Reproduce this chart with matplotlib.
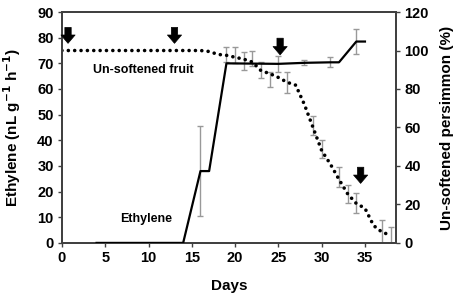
import matplotlib
matplotlib.use("Agg")
import matplotlib.pyplot as plt

plt.rcParams['font.family'] = ['Liberation Sans', 'DejaVu Sans']
plt.rcParams['font.weight'] = 'bold'
plt.rcParams['mathtext.default'] = 'bf'

# ethylene production (left axis)
eth_days = [4, 14, 16, 17, 19, 25, 28, 31, 32, 34, 35]
eth_vals = [0, 0, 28, 28, 70, 69.8, 70.2, 70.4, 70.4, 78.5, 78.5]
eth_err_days = [16, 25, 28, 31, 34]
eth_err_vals = [28, 69.8, 70.2, 70.4, 78.5]
eth_err = [17.5, 3, 1, 2, 4.7]

# un-softened fruit percentage (right axis)
soft_days = list(range(0, 39))
soft_vals = [100] * 17 + [99.5, 98, 97.5, 96.5, 95.5, 94, 89.5, 88, 86, 83.5,
                          82, 72, 60, 48, 41, 33, 25.5, 20.5, 18, 9, 5.5, 4]
soft_err_days = [19, 20, 21, 22, 23, 24, 26, 29, 30, 32, 33, 34, 37, 38]
soft_err_vals = [98, 97.7, 94.7, 95.7, 89.8, 85, 83.3, 61, 48.8, 34.3, 25.5, 20.8, 5.5, 4.2]
soft_err = [4, 4.3, 4.7, 3.9, 4.3, 3.9, 5.6, 5, 4.7, 5.2, 4.7, 5.2, 6.5, 4.2]

# sampling arrows: day, top, tip (left-axis units)
arrow_days = [0.7, 13, 25.2, 34.5]
arrow_top = [84, 84, 79.8, 29.5]
arrow_tip = [77.8, 77.8, 73.3, 23.2]

spine_col = '#404040'
err_col = '#999999'

fig = plt.figure(figsize=(4.59, 3.01), dpi=100)
ax = fig.add_axes([0.135, 0.193, 0.728, 0.767])
ax2 = ax.twinx()

ax2.errorbar(soft_err_days, soft_err_vals, yerr=soft_err, fmt='none',
             ecolor=err_col, elinewidth=1, capsize=2, capthick=1, zorder=1)
ax2.plot(soft_days, soft_vals, color='black', lw=2.6,
         linestyle=(0, (0.01, 1.75)), dash_capstyle='round', zorder=2)

ax.errorbar(eth_err_days, eth_err_vals, yerr=eth_err, fmt='none',
            ecolor=err_col, elinewidth=1, capsize=2, capthick=1, zorder=1)
ax.plot(eth_days, eth_vals, color='black', lw=1.6, zorder=3)

for d, t, b in zip(arrow_days, arrow_top, arrow_tip):
    ax.annotate('', xy=(d, b), xytext=(d, t),
                arrowprops=dict(arrowstyle='simple,head_length=0.5,head_width=0.85,tail_width=0.38',
                                fc='black', ec='black', lw=0.5, mutation_scale=12,
                                shrinkA=0, shrinkB=0), zorder=5)

ax.text(9.4, 67.5, 'Un-softened fruit', fontsize=9, ha='center', va='center')
ax.text(9.7, 9.3, 'Ethylene', fontsize=9, ha='center', va='center')

ax.set_xlim(0, 38.6)
ax.set_ylim(0, 90)
ax2.set_ylim(0, 120)
ax.set_xticks(range(0, 36, 5))
ax.set_yticks(range(0, 91, 10))
ax2.set_yticks(range(0, 121, 20))

ax.set_xlabel('Days', fontsize=11, fontweight='bold', labelpad=10)
ax.set_ylabel('Ethylene (nL g$^{-1}$ h$^{-1}$)', fontsize=11,
              fontweight='bold', labelpad=10)
ax2.set_ylabel('Un-softened persimmon (%)', fontsize=11, fontweight='bold', labelpad=8)

for a in (ax, ax2):
    for s in a.spines.values():
        s.set_color(spine_col)
        s.set_linewidth(1.3)
    a.tick_params(direction='out', length=3, width=1, color=spine_col,
                  labelsize=10.5, pad=3)
ax.set_zorder(ax2.get_zorder() + 1)
ax.patch.set_visible(False)

fig.savefig('out.png', dpi=100)
